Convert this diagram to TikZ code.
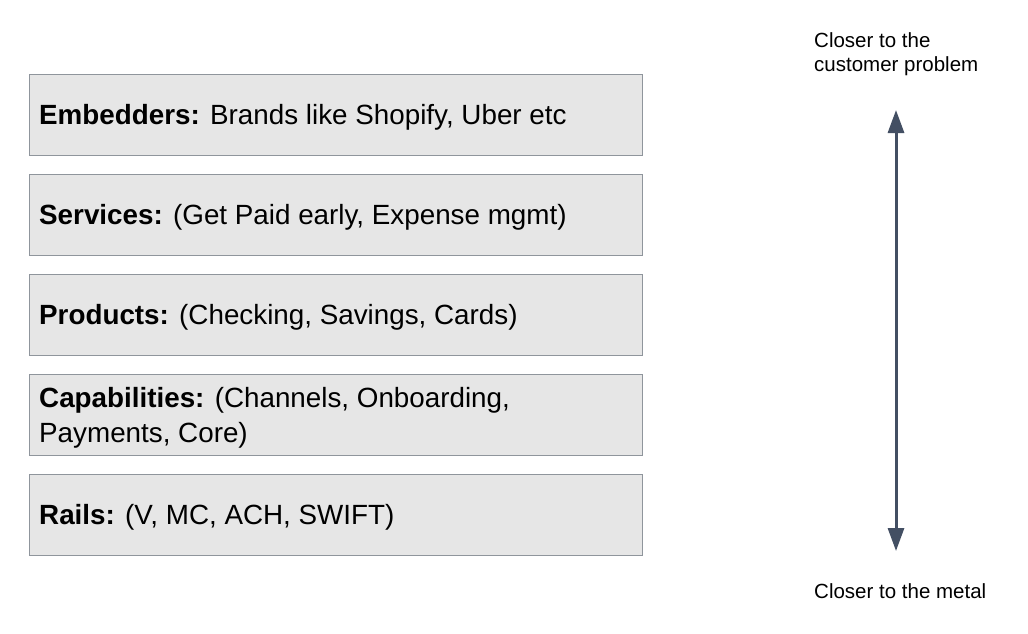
\documentclass[tikz,border=0pt]{standalone}
\usepackage{fontspec}
\setmainfont{Liberation Sans}
\usetikzlibrary{arrows.meta}
\definecolor{boxfill}{HTML}{E6E6E6}
\definecolor{boxline}{HTML}{8F959C}
\definecolor{arrowc}{HTML}{434F63}
\begin{document}
\begin{tikzpicture}[x=1pt,y=-1pt,
  layer/.style={draw=boxline, line width=1pt, fill=boxfill, minimum width=613pt, minimum height=81pt,
    inner sep=0pt, anchor=north west},
  layertext/.style={align=left, inner sep=0pt, anchor=west, xshift=10pt, yshift=-2.5pt,
    font=\fontsize{27.8}{35}\selectfont},
  note/.style={align=left, anchor=west, inner sep=0pt, font=\fontsize{20.5}{24}\selectfont}]
\useasboundingbox (0,0) rectangle (1028,633);
\node[layer] (emb) at (29,74) {};
\node[layer] (ser) at (29,174) {};
\node[layer] (pro) at (29,274) {};
\node[layer] (cap) at (29,374) {};
\node[layer] (rai) at (29,474) {};
\node[layertext] (embt) at (emb.west) {\textbf{Embedders:} Brands like Shopify, Uber etc};
\node[layertext] (sert) at (ser.west) {\textbf{Services:} (Get Paid early, Expense mgmt)};
\node[layertext] (prot) at (pro.west) {\textbf{Products:} (Checking, Savings, Cards)};
\node[layertext] (capt) at (cap.west) {\textbf{Capabilities:} (Channels, Onboarding,\\Payments, Core)};
\node[layertext] (rait) at (rai.west) {\textbf{Rails:} (V, MC, ACH, SWIFT)};
\node[note] (top) at (814,54) {Closer to the\\customer problem};
\node[note] (bot) at (814,591) {Closer to the metal};
\coordinate (a1) at (896,110);
\coordinate (a2) at (896,551);
\draw[arrowc, line width=3pt, {Triangle[width=16pt,length=23pt]}-{Triangle[width=16pt,length=23pt]}] (a1) -- (a2);
\end{tikzpicture}
\end{document}
